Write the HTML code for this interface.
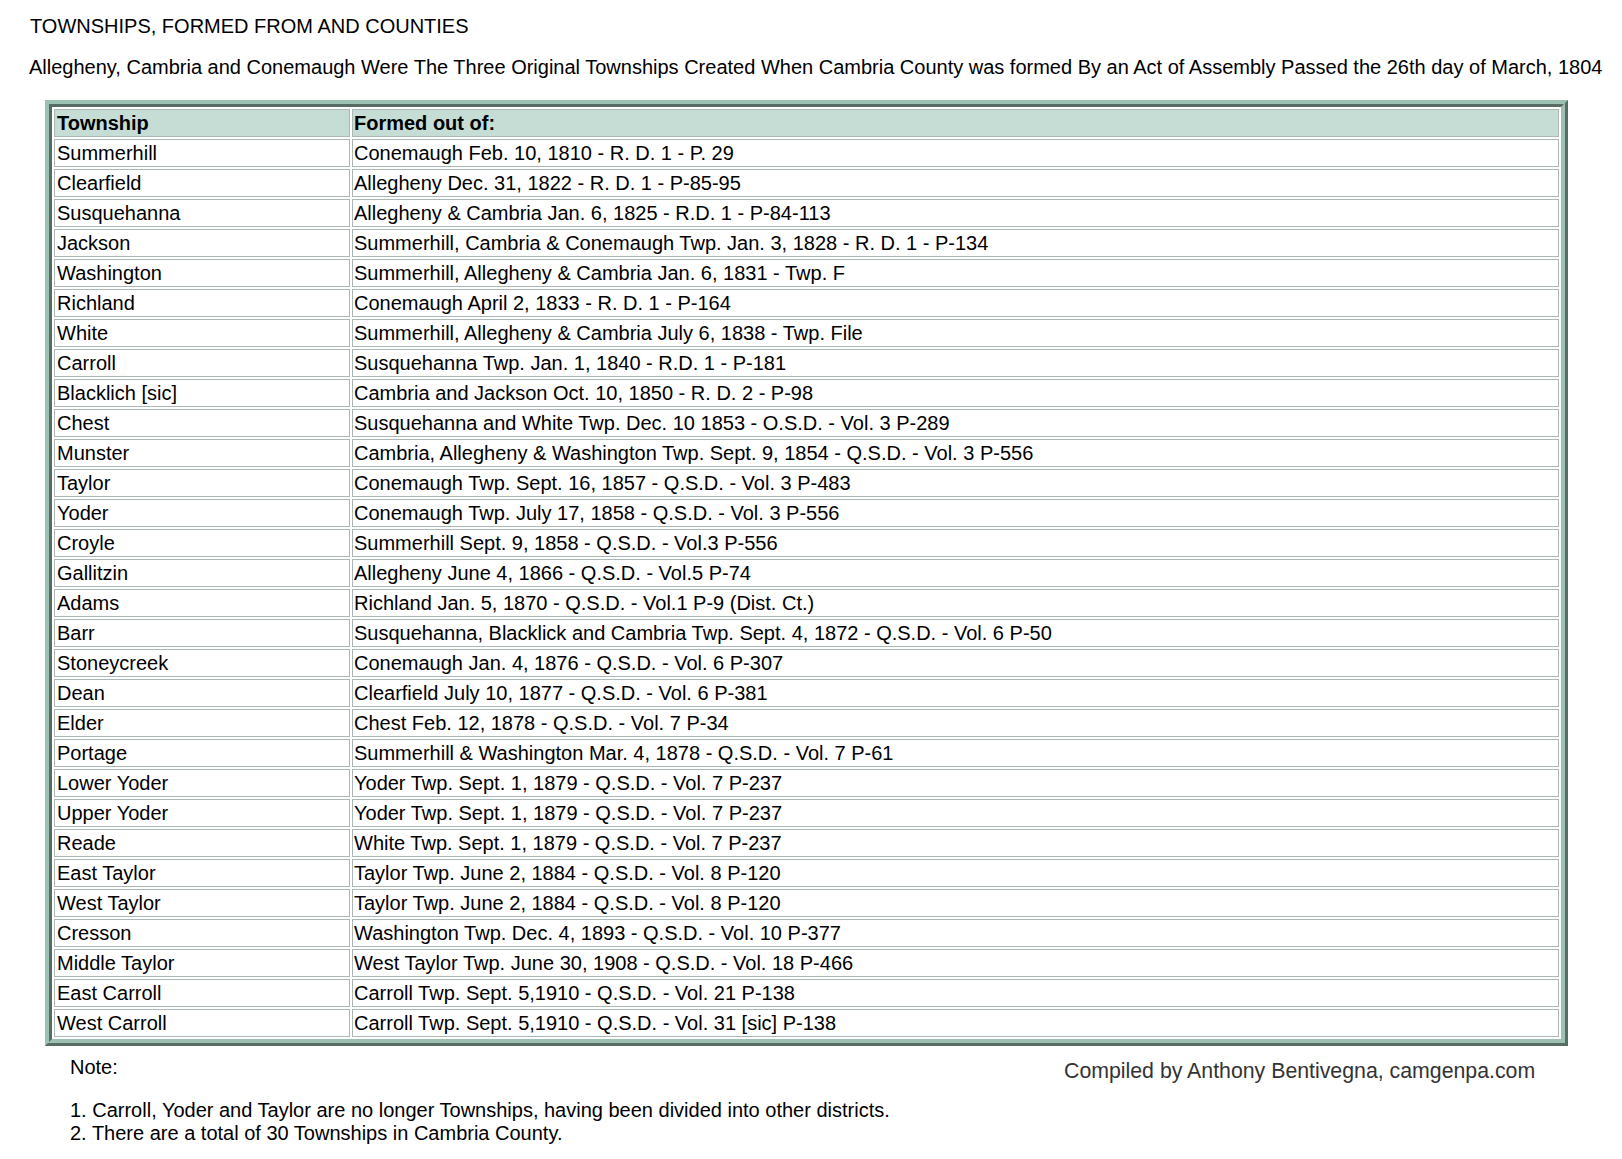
<!DOCTYPE html>
<html><head><meta charset="utf-8"><title>Townships</title>
<style>
html,body{margin:0;padding:0;background:#fff;}
body{width:1622px;height:1159px;position:relative;overflow:hidden;font-family:"Liberation Sans",sans-serif;font-size:20px;color:#000;}
.t1,.t2,.note,.n1,.n2,.comp{position:absolute;white-space:nowrap;line-height:23px;}
.t1{left:30px;top:15px;}
.t2{left:29px;top:56px;}
.tw{position:absolute;left:45px;top:100px;width:1523px;border:7px ridge #9cc0b1;border-spacing:2px;border-collapse:separate;}
.tw td{border:1px solid #abb8b6;padding:0 2px 0 1px;height:26px;line-height:26px;vertical-align:middle;white-space:nowrap;}
.tw td:first-child{width:296px;box-sizing:border-box;padding-left:2px;}
.tw tr.hd td{background:#c6ddd5;font-weight:bold;}
.note{left:70px;top:1056px;}
.n1{left:70px;top:1099px;}
.n2{left:70px;top:1122px;}
.comp{left:1064px;top:1060px;font-size:21.3px;color:#333;}

</style></head>
<body>
<div class="t1">TOWNSHIPS, FORMED FROM AND COUNTIES</div>
<div class="t2">Allegheny, Cambria and Conemaugh Were The Three Original Townships Created When Cambria County was formed By an Act of Assembly Passed the 26th day of March, 1804</div>
<table class="tw">
<tr class="hd"><td>Township</td><td>Formed out of:</td></tr>
<tr><td>Summerhill</td><td>Conemaugh Feb. 10, 1810 - R. D. 1 - P. 29</td></tr>
<tr><td>Clearfield</td><td>Allegheny Dec. 31, 1822 - R. D. 1 - P-85-95</td></tr>
<tr><td>Susquehanna</td><td>Allegheny &amp; Cambria Jan. 6, 1825 - R.D. 1 - P-84-113</td></tr>
<tr><td>Jackson</td><td>Summerhill, Cambria &amp; Conemaugh Twp. Jan. 3, 1828 - R. D. 1 - P-134</td></tr>
<tr><td>Washington</td><td>Summerhill, Allegheny &amp; Cambria Jan. 6, 1831 - Twp. F</td></tr>
<tr><td>Richland</td><td>Conemaugh April 2, 1833 - R. D. 1 - P-164</td></tr>
<tr><td>White</td><td>Summerhill, Allegheny &amp; Cambria July 6, 1838 - Twp. File</td></tr>
<tr><td>Carroll</td><td>Susquehanna Twp. Jan. 1, 1840 - R.D. 1 - P-181</td></tr>
<tr><td>Blacklich [sic]</td><td>Cambria and Jackson Oct. 10, 1850 - R. D. 2 - P-98</td></tr>
<tr><td>Chest</td><td>Susquehanna and White Twp. Dec. 10 1853 - O.S.D. - Vol. 3 P-289</td></tr>
<tr><td>Munster</td><td>Cambria, Allegheny &amp; Washington Twp. Sept. 9, 1854 - Q.S.D. - Vol. 3 P-556</td></tr>
<tr><td>Taylor</td><td>Conemaugh Twp. Sept. 16, 1857 - Q.S.D. - Vol. 3 P-483</td></tr>
<tr><td>Yoder</td><td>Conemaugh Twp. July 17, 1858 - Q.S.D. - Vol. 3 P-556</td></tr>
<tr><td>Croyle</td><td>Summerhill Sept. 9, 1858 - Q.S.D. - Vol.3 P-556</td></tr>
<tr><td>Gallitzin</td><td>Allegheny June 4, 1866 - Q.S.D. - Vol.5 P-74</td></tr>
<tr><td>Adams</td><td>Richland Jan. 5, 1870 - Q.S.D. - Vol.1 P-9 (Dist. Ct.)</td></tr>
<tr><td>Barr</td><td>Susquehanna, Blacklick and Cambria Twp. Sept. 4, 1872 - Q.S.D. - Vol. 6 P-50</td></tr>
<tr><td>Stoneycreek</td><td>Conemaugh Jan. 4, 1876 - Q.S.D. - Vol. 6 P-307</td></tr>
<tr><td>Dean</td><td>Clearfield July 10, 1877 - Q.S.D. - Vol. 6 P-381</td></tr>
<tr><td>Elder</td><td>Chest Feb. 12, 1878 - Q.S.D. - Vol. 7 P-34</td></tr>
<tr><td>Portage</td><td>Summerhill &amp; Washington Mar. 4, 1878 - Q.S.D. - Vol. 7 P-61</td></tr>
<tr><td>Lower Yoder</td><td>Yoder Twp. Sept. 1, 1879 - Q.S.D. - Vol. 7 P-237</td></tr>
<tr><td>Upper Yoder</td><td>Yoder Twp. Sept. 1, 1879 - Q.S.D. - Vol. 7 P-237</td></tr>
<tr><td>Reade</td><td>White Twp. Sept. 1, 1879 - Q.S.D. - Vol. 7 P-237</td></tr>
<tr><td>East Taylor</td><td>Taylor Twp. June 2, 1884 - Q.S.D. - Vol. 8 P-120</td></tr>
<tr><td>West Taylor</td><td>Taylor Twp. June 2, 1884 - Q.S.D. - Vol. 8 P-120</td></tr>
<tr><td>Cresson</td><td>Washington Twp. Dec. 4, 1893 - Q.S.D. - Vol. 10 P-377</td></tr>
<tr><td>Middle Taylor</td><td>West Taylor Twp. June 30, 1908 - Q.S.D. - Vol. 18 P-466</td></tr>
<tr><td>East Carroll</td><td>Carroll Twp. Sept. 5,1910 - Q.S.D. - Vol. 21 P-138</td></tr>
<tr><td>West Carroll</td><td>Carroll Twp. Sept. 5,1910 - Q.S.D. - Vol. 31 [sic] P-138</td></tr>
</table>
<div class="note">Note:</div>
<div class="n1">1. Carroll, Yoder and Taylor are no longer Townships, having been divided into other districts.</div>
<div class="n2">2. There are a total of 30 Townships in Cambria County.</div>
<div class="comp">Compiled by Anthony Bentivegna, camgenpa.com</div>
</body></html>
